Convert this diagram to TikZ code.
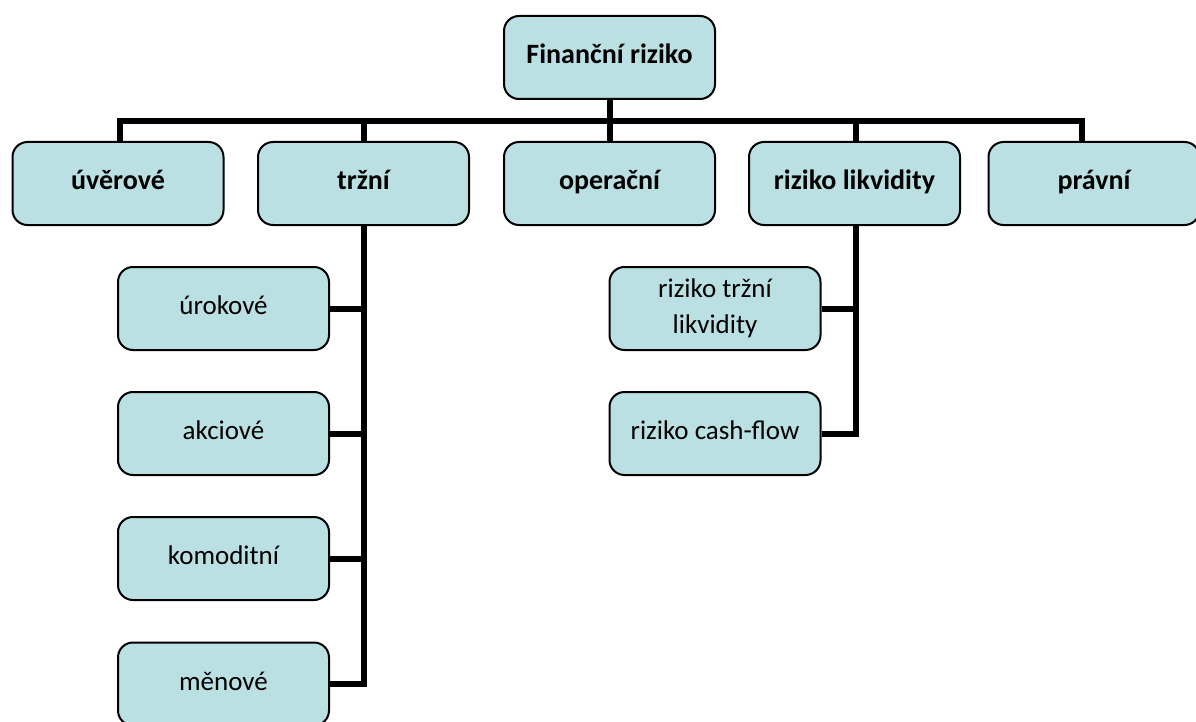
\documentclass[tikz,border=0pt]{standalone}
\usepackage{fontspec}
\setmainfont{Carlito}
\definecolor{boxfill}{RGB}{186,224,227}
\tikzset{
  basebox/.style={draw=black, line width=2pt, fill=boxfill, rounded corners=15pt,
    minimum width=211pt, minimum height=83pt, inner sep=2pt, align=center,
    font=\fontsize{27}{36}\selectfont},
  rbox/.style={basebox, text height=18pt, text depth=6pt},
  topbox/.style={rbox, font=\fontsize{28}{36}\selectfont\bfseries},
  conn/.style={line width=6pt, line join=miter}
}
\begin{document}
\begin{tikzpicture}[x=1pt,y=-1pt]
\useasboundingbox (0,0) rectangle (1196,722);
\node[topbox] (root) at (609.5,57.5) {Finanční riziko};
\coordinate (bar) at (0,121);
\node[topbox] (uver) at (118,183.5) {úvěrové};
\node[topbox] (trzni) at (363.5,183.5) {tržní};
\node[topbox] (oper) at (609.5,183.5) {operační};
\node[topbox] (likv) at (854.5,183.5) {riziko likvidity};
\node[topbox] (pravni) at (1094,183.5) {právní};
\node[rbox] (urok) at (223.5,308.5) {úrokové};
\node[rbox] (akci) at (223.5,433.5) {akciové};
\node[rbox] (komo) at (223.5,558.5) {komoditní};
\node[rbox] (mena) at (223.5,684) {měnové};
\node[basebox] (rtl) at (715,308.5) {riziko tržní\\likvidity};
\node[rbox] (rcf) at (715,433.5) {riziko cash-flow};
\coordinate (barL) at (120,121);
\coordinate (barR) at (1082,121);
\coordinate (tT) at (364,225);
\coordinate (lT) at (856,225);
\draw[conn] (root.south) -- (root.south |- bar);
\draw[conn] (barL |- uver.north) |- (barR) -- (barR |- pravni.north);
\draw[conn] (tT |- bar) -- (tT |- trzni.north);
\draw[conn] (oper.north |- bar) -- (oper.north);
\draw[conn] (lT |- bar) -- (lT |- likv.north);
\draw[conn] (tT) |- (mena.east);
\draw[conn] (urok.east) -- (urok.east -| tT);
\draw[conn] (akci.east) -- (akci.east -| tT);
\draw[conn] (komo.east) -- (komo.east -| tT);
\draw[conn] (lT) |- (rcf.east);
\draw[conn] (rtl.east) -- (rtl.east -| lT);
\end{tikzpicture}
\end{document}
